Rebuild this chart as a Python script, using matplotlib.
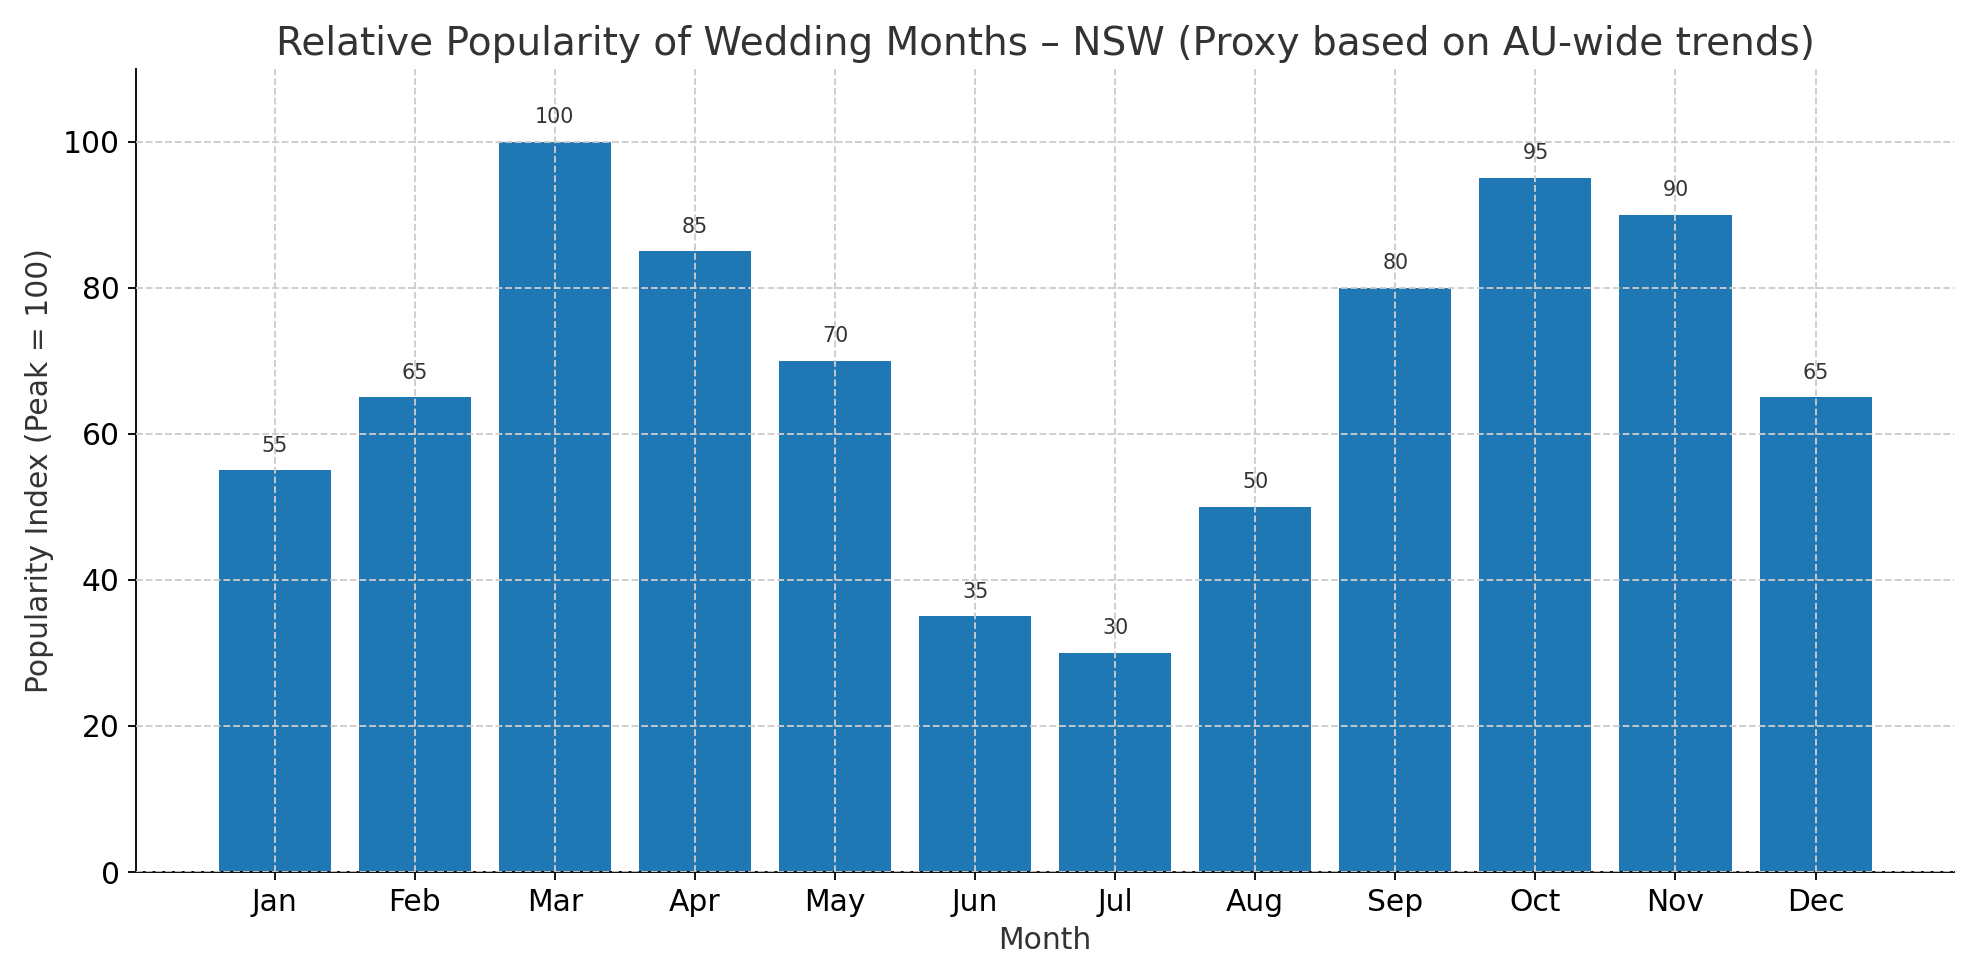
import matplotlib
matplotlib.use("Agg")
import matplotlib.pyplot as plt

months = ["Jan","Feb","Mar","Apr","May","Jun","Jul","Aug","Sep","Oct","Nov","Dec"]
values = [55,65,100,85,70,35,30,50,80,95,90,65]

fig, ax = plt.subplots(figsize=(1979/165, 980/165), dpi=165)
bars = ax.bar(months, values, color="#1f77b4", zorder=2)
for b, v in zip(bars, values):
    ax.text(b.get_x()+b.get_width()/2, v+2, str(v), ha="center", va="bottom", fontsize=9, color="#333333")
ax.set_ylim(0, 110)
ax.set_title("Relative Popularity of Wedding Months – NSW (Proxy based on AU-wide trends)", fontsize=17, color="#333333")
ax.set_xlabel("Month", fontsize=13, color="#333333")
ax.set_ylabel("Popularity Index (Peak = 100)", fontsize=13, color="#333333")
ax.tick_params(labelsize=13)
ax.grid(True, linestyle="--", color="#cccccc", linewidth=0.8, zorder=0)
ax.set_axisbelow(False)
for s in ["top","right"]:
    ax.spines[s].set_visible(False)
fig.tight_layout()
fig.savefig("out.png", dpi=165)
